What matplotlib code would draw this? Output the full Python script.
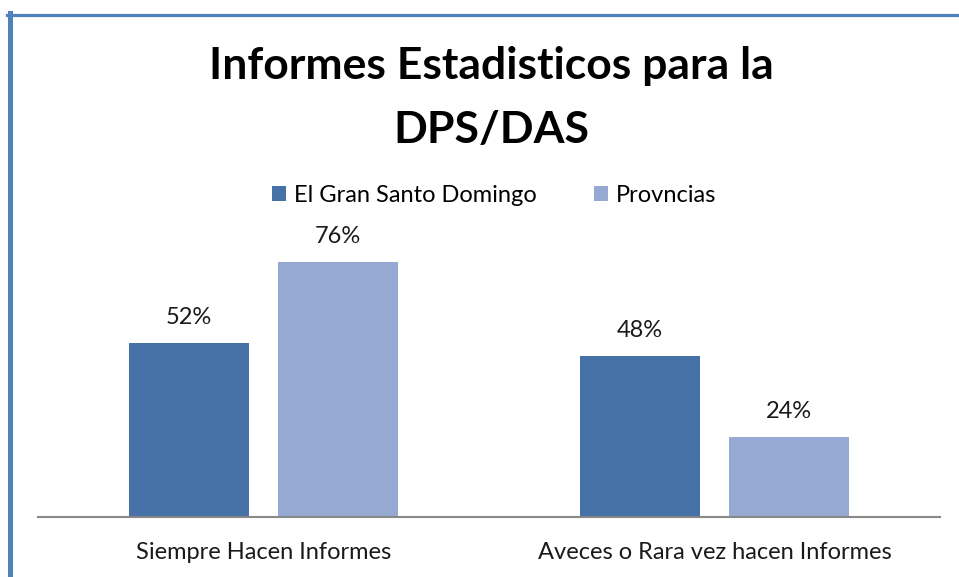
import matplotlib.pyplot as plt
import numpy as np

plt.rcParams['font.family'] = ['Lato', 'DejaVu Sans']

# Data
categories = ['Siempre Hacen Informes', 'Aveces o Rara vez hacen Informes']
series_names = ['El Gran Santo Domingo', 'Provncias']
santo_domingo = [52, 48]
provincias = [76, 24]
colors = ['#4672A8', '#95A9D2']

fig = plt.figure(figsize=(9.59, 5.77), dpi=100)
fig.patch.set_facecolor('white')

# Frame lines (top and left edge of the chart box)
fig.add_artist(plt.Line2D([7 / 959, 1], [1 - 14.5 / 577] * 2, color='#4F81BD', lw=2.3))
fig.add_artist(plt.Line2D([9.5 / 959] * 2, [0, 1 - 13 / 577], color='#4F81BD', lw=3.6))

# Axes placed in pixel coords: x 38..940, baseline y=517, 80% -> y=249
ax = fig.add_axes([38 / 959, 1 - 517 / 577, 902 / 959, 268 / 577])
x = np.arange(len(categories))
w = 0.266
off = 0.166
b1 = ax.bar(x - off, santo_domingo, w, color=colors[0], label=series_names[0])
b2 = ax.bar(x + off, provincias, w, color=colors[1], label=series_names[1])

for bars, vals in [(b1, santo_domingo), (b2, provincias)]:
    for rect, v in zip(bars, vals):
        ax.text(rect.get_x() + rect.get_width() / 2, v + 4.5, f'{v}%',
                ha='center', va='bottom', fontsize=17, color='#1a1a1a')

ax.set_xlim(-0.5, 1.5)
ax.set_ylim(0, 80)
ax.set_yticks([])
ax.set_xticks(x)
ax.set_xticklabels(categories, fontsize=17, color='#1a1a1a')
ax.tick_params(axis='x', length=0, pad=18)
for s in ['top', 'right', 'left']:
    ax.spines[s].set_visible(False)
ax.spines['bottom'].set_color('#888888')
ax.spines['bottom'].set_linewidth(1.5)

fig.text(491.5 / 959, 1 - 46 / 577, 'Informes Estadisticos para la\nDPS/DAS', ha='center',
         va='top', fontsize=32, fontweight='bold', linespacing=1.72)

fig.legend(handles=[b1, b2], loc='center', bbox_to_anchor=(494 / 959, 1 - 195 / 577),
           ncol=2, frameon=False, fontsize=17, handlelength=0.6, handleheight=0.6,
           columnspacing=2.4, handletextpad=0.35)

plt.savefig('out.png', dpi=100)
